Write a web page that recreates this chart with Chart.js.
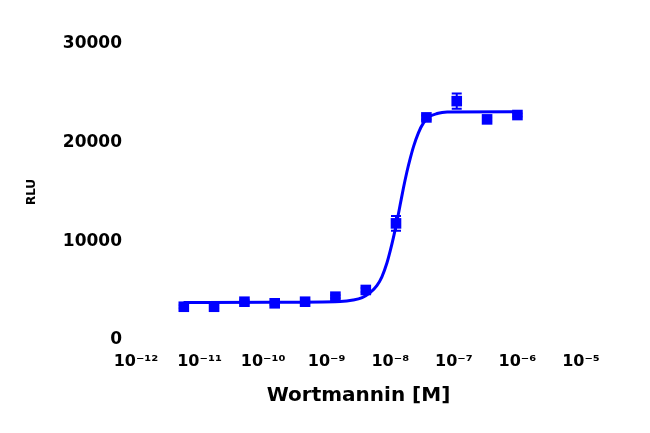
<!DOCTYPE html>
<html>
<head>
<meta charset="utf-8">
<script src="https://cdn.jsdelivr.net/npm/chart.js@4/dist/chart.umd.min.js"></script>
<style>
  html, body { margin: 0; padding: 0; background: #ffffff; }
  #wrap { width: 650px; height: 433px; position: relative; }
</style>
</head>
<body>
<div id="wrap"><canvas id="c" width="650" height="433"></canvas></div>
<script>
// Measured points (Wortmannin concentration in M, response)
const concentrations = [5.65e-12, 1.69e-11, 5.08e-11, 1.52e-10, 4.57e-10, 1.37e-9, 4.12e-9, 1.23e-8, 3.70e-8, 1.11e-7, 3.33e-7, 1.0e-6];
const responses      = [3370, 3370, 3880, 3720, 3880, 4390, 5070, 11820, 22560, 24210, 22360, 22800];
const errors         = [150, 150, 150, 150, 150, 150, 200, 750, 200, 780, 200, 150];

// Fitted curve
const curveConc  = [5.6e-12, 1.29e-10, 1.63e-9, 2.61e-9, 3.61e-9, 4.83e-9, 6.15e-9, 7.38e-9, 8.85e-9, 9.95e-9, 1.122e-8, 1.27e-8, 1.43e-8, 1.61e-8, 1.82e-8, 2.06e-8, 2.32e-8, 2.77e-8, 3.33e-8, 3.94e-8, 5.46e-8, 7.85e-8, 1.0e-6];
const curveValue = [3800, 3820, 3900, 4050, 4300, 4800, 5500, 6400, 7800, 9000, 10400, 12000, 13700, 15400, 17000, 18400, 19600, 21000, 22000, 22550, 22950, 23100, 23130];

// Axis ticks
const xTickValues = [1e-12, 1e-11, 1e-10, 1e-9, 1e-8, 1e-7, 1e-6, 1e-5];
const xTickLabels = ['10\u207B\u00B9\u00B2', '10\u207B\u00B9\u00B9', '10\u207B\u00B9\u2070', '10\u207B\u2079', '10\u207B\u2078', '10\u207B\u2077', '10\u207B\u2076', '10\u207B\u2075'];
const yTickValues = [0, 10000, 20000, 30000];

const xTitle = 'Wortmannin [M]';
const yTitle = 'RLU';

const BLUE = '#0000FF';
const FONT = "'DejaVu Sans', 'Liberation Sans', Arial, sans-serif";

const errorBarPlugin = {
  id: 'errorBars',
  afterDatasetsDraw(chart) {
    const xs = chart.scales.x, ys = chart.scales.y;
    const ctx = chart.ctx;
    ctx.save();
    ctx.strokeStyle = BLUE;
    ctx.lineWidth = 2;
    const cap = 5;
    for (let i = 0; i < concentrations.length; i++) {
      const px = xs.getPixelForValue(concentrations[i]);
      const top = ys.getPixelForValue(responses[i] + errors[i]);
      const bot = ys.getPixelForValue(responses[i] - errors[i]);
      ctx.beginPath();
      ctx.moveTo(px, top); ctx.lineTo(px, bot);
      ctx.moveTo(px - cap, top); ctx.lineTo(px + cap, top);
      ctx.moveTo(px - cap, bot); ctx.lineTo(px + cap, bot);
      ctx.stroke();
    }
    ctx.restore();
  }
};

new Chart(document.getElementById('c'), {
  type: 'scatter',
  data: {
    datasets: [
      {
        label: 'data',
        data: concentrations.map((x, i) => ({ x: x, y: responses[i] })),
        showLine: false,
        pointStyle: 'rect',
        pointRadius: 7.5,
        pointHoverRadius: 7.5,
        backgroundColor: BLUE,
        borderColor: BLUE,
        borderWidth: 0,
        order: 0
      },
      {
        label: 'fit',
        data: curveConc.map((x, i) => ({ x: x, y: curveValue[i] })),
        showLine: true,
        pointRadius: 0,
        borderColor: BLUE,
        borderWidth: 3,
        cubicInterpolationMode: 'monotone',
        fill: false,
        order: 1
      }
    ]
  },
  options: {
    responsive: false,
    animation: false,
    devicePixelRatio: 1,
    layout: { padding: { left: 0, right: 69, top: 44, bottom: 0 } },
    plugins: { legend: { display: false }, tooltip: { enabled: false } },
    scales: {
      x: {
        type: 'logarithmic',
        min: 1e-12,
        max: 1e-5,
        grid: { display: false, drawTicks: false, tickLength: 0 },
        border: { display: false },
        afterBuildTicks(scale) { scale.ticks = xTickValues.map(v => ({ value: v })); },
        afterFit(scale) { scale.height = 93; },
        ticks: {
          autoSkip: false,
          maxRotation: 0,
          padding: 12,
          color: '#000',
          font: { family: FONT, size: 16, weight: 'bold' },
          callback(value) {
            const i = xTickValues.findIndex(v => Math.abs(Math.log10(v) - Math.log10(value)) < 1e-6);
            return i >= 0 ? xTickLabels[i] : '';
          }
        },
        title: {
          display: true,
          text: xTitle,
          color: '#000',
          font: { family: FONT, size: 20, weight: 'bold' },
          padding: { top: 0, bottom: 25 }
        }
      },
      y: {
        type: 'linear',
        min: 0,
        max: 30000,
        grid: { display: false, drawTicks: false, tickLength: 0 },
        border: { display: false },
        afterBuildTicks(scale) { scale.ticks = yTickValues.map(v => ({ value: v })); },
        afterFit(scale) { scale.width = 136; },
        ticks: {
          padding: 14,
          color: '#000',
          font: { family: FONT, size: 17, weight: 'bold' },
          callback(value) { return String(value); }
        },
        title: {
          display: true,
          text: yTitle,
          color: '#000',
          font: { family: FONT, size: 12, weight: 'bold' },
          padding: { top: 25, bottom: 0 }
        }
      }
    }
  },
  plugins: [errorBarPlugin]
});
</script>
</body>
</html>
